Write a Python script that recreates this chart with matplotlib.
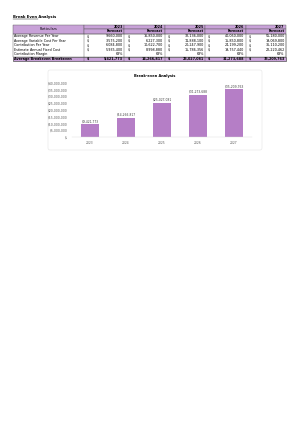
import matplotlib
matplotlib.use("Agg")
import matplotlib.pyplot as plt
from matplotlib.patches import Rectangle, FancyBboxPatch
from matplotlib.ticker import FuncFormatter

years = ["2023", "2024", "2025", "2026", "2027"]
particulars = ["Average Revenue Per Year", "Average Variable Cost Per Year",
               "Contribution Per Year", "Estimate Annual Fixed Cost",
               "Contribution Margin"]
revenue = [9660000, 16850000, 32136000, 40050000, 55180000]
variable_cost = [3575200, 6227300, 11888100, 15850800, 19069800]
contribution = [6084800, 10622700, 20247900, 24199200, 36110200]
fixed_cost = [5935400, 8998880, 15786356, 19757440, 22220462]
margin = ["63%", "63%", "63%", "63%", "63%"]
breakeven = [9421773, 14266817, 25027081, 31273688, 35209763]

purple = "#c8a2d8"
bar_col = "#b57ec6"

W, H = 298, 421
fig = plt.figure(figsize=(W / 100, H / 100), dpi=100)
bg = fig.add_axes([0, 0, 1, 1])
bg.set_xlim(0, W)
bg.set_ylim(H, 0)
bg.axis("off")

fs = 2.4
bg.text(13, 17, "Break Even Analysis", fontsize=2.7, fontweight="bold",
        va="center", ha="left")
bg.plot([13, 38], [18.6, 18.6], color="black", lw=0.3)

# table layout
x0, xp = 13, 84
col_w = 40.4
y_top = 24.5
rh = 4.6
cols = [xp + i * col_w for i in range(6)]

# header
bg.add_patch(Rectangle((x0, y_top), xp - x0, 2 * rh, fc=purple, ec="#555555", lw=0.3))
bg.text((x0 + xp) / 2, y_top + rh, "Particulars", fontsize=fs, ha="center", va="center")
for i, yr in enumerate(years):
    bg.add_patch(Rectangle((cols[i], y_top), col_w, rh, fc=purple, ec="#555555", lw=0.3))
    bg.add_patch(Rectangle((cols[i], y_top + rh), col_w, rh, fc=purple, ec="#555555", lw=0.3))
    bg.text(cols[i + 1] - 1.5, y_top + rh / 2, yr, fontsize=fs, ha="right", va="center",
            fontweight="bold")
    bg.text(cols[i + 1] - 1.5, y_top + 1.5 * rh, "Forecast", fontsize=fs, ha="right",
            va="center", fontweight="bold")

rows = [revenue, variable_cost, contribution, fixed_cost, margin]
y = y_top + 2 * rh
for name, vals in zip(particulars, rows):
    bg.text(x0 + 0.8, y + rh / 2, name, fontsize=fs, va="center", ha="left")
    for i, v in enumerate(vals):
        if isinstance(v, str):
            bg.text(cols[i + 1] - 1.5, y + rh / 2, v, fontsize=fs, va="center", ha="right")
        else:
            bg.text(cols[i] + 3, y + rh / 2, "$", fontsize=fs, va="center", ha="left")
            bg.text(cols[i + 1] - 1.5, y + rh / 2, f"{v:,.0f}", fontsize=fs,
                    va="center", ha="right")
    y += rh
body_top = y_top + 2 * rh
bg.add_patch(Rectangle((x0, body_top), cols[-1] - x0, y - body_top, fc="none",
                       ec="#555555", lw=0.3))
for c in cols:
    bg.plot([c, c], [body_top, y], color="#555555", lw=0.3)

# total row
bg.add_patch(Rectangle((x0, y), cols[-1] - x0, rh, fc=purple, ec="#555555", lw=0.5))
bg.text(x0 + 0.8, y + rh / 2, "Average Breakeven Breakeven", fontsize=fs, va="center",
        ha="left", fontweight="bold")
for i, v in enumerate(breakeven):
    bg.plot([cols[i], cols[i]], [y, y + rh], color="#555555", lw=0.3)
    bg.text(cols[i] + 3, y + rh / 2, "$", fontsize=fs, va="center", ha="left",
            fontweight="bold")
    bg.text(cols[i + 1] - 1.5, y + rh / 2, f"{v:,.0f}", fontsize=fs, va="center",
            ha="right", fontweight="bold")

# chart box
bg.add_patch(FancyBboxPatch((48, 70), 214, 80, boxstyle="round,pad=0,rounding_size=2",
                            fc="white", ec="#e3e3e3", lw=0.4))
bg.text(155, 76, "Break-even Analysis", fontsize=2.6, fontweight="bold",
        ha="center", va="center")

cfs = 2.2
ax = fig.add_axes([72 / W, 1 - 137 / H, 180 / W, 54 / H])
ax.bar(range(len(years)), breakeven, width=0.5, color=bar_col)
for i, v in enumerate(breakeven):
    ax.text(i, v + 900000, f"${v:,.0f}", fontsize=cfs, ha="center", va="bottom",
            color="#404040")
ax.set_xlim(-0.5, 4.5)
ax.set_ylim(0, 40000000)
ax.set_yticks(range(0, 40000001, 5000000))
ax.yaxis.set_major_formatter(FuncFormatter(
    lambda v, p: "$-" if v == 0 else f"${v:,.0f}"))
ax.set_xticks(range(len(years)))
ax.set_xticklabels(years)
ax.tick_params(labelsize=cfs, colors="#595959", length=0, pad=3)
for s in ["top", "right", "left"]:
    ax.spines[s].set_visible(False)
ax.spines["bottom"].set_color("#d9d9d9")
ax.spines["bottom"].set_linewidth(0.3)

fig.savefig("out.png", dpi=100)
